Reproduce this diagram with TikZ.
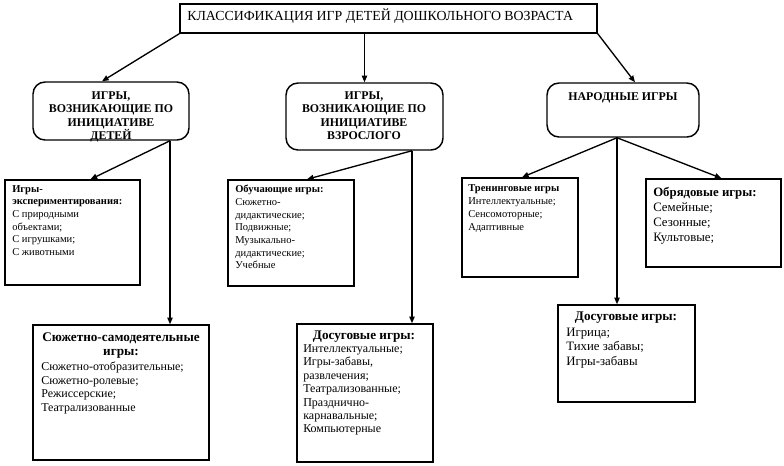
\documentclass[tikz,border=0pt]{standalone}
\usepackage{fontspec}
\setmainfont{Liberation Serif}
\usetikzlibrary{calc,fit,arrows.meta}

\tikzset{
  frame/.style={draw, line width=1.1pt, inner sep=0pt},
  topbox/.style={frame, rounded corners=9pt},
  link/.style={line width=1pt, -{Triangle[length=5pt,width=4pt]}},
  headtext/.style={anchor=north, inner sep=0pt, align=center,
    font=\bfseries\fontsize{8.9}{10}\selectfont},
  subhead/.style={headtext, font=\bfseries\fontsize{9.9}{11}\selectfont},
  listtext/.style={anchor=north west, inner sep=0pt, align=left,
    font=\fontsize{7.9}{9.5}\selectfont},
  bigtext/.style={listtext, font=\fontsize{9}{10.1}\selectfont},
  hugetext/.style={listtext, font=\fontsize{9.6}{11.1}\selectfont},
}

\begin{document}
\begin{tikzpicture}[x=0.75pt,y=-0.75pt]
  \useasboundingbox (0,0) rectangle (784,465);

  % title
  \node[frame, fit={(180,4) (597,33)}] (title) {};
  \node[anchor=west, inner sep=0pt, font=\fontsize{10.4}{12}\selectfont] (titletext)
    at (187,16.5) {КЛАССИФИКАЦИЯ ИГР ДЕТЕЙ ДОШКОЛЬНОГО ВОЗРАСТА};

  % first level
  \node[topbox, fit={(33,82) (189,140)}] (kids) {};
  \node[headtext] (kidstext) at (111,91.5) {ИГРЫ,\\ВОЗНИКАЮЩИЕ ПО\\ИНИЦИАТИВЕ\\ДЕТЕЙ};
  \node[topbox, fit={(286,83) (443,150)}] (adult) {};
  \node[headtext] (adulttext) at (364,91.5) {ИГРЫ,\\ВОЗНИКАЮЩИЕ ПО\\ИНИЦИАТИВЕ\\ВЗРОСЛОГО};
  \node[topbox, fit={(547,83) (699,137)}] (folk) {};
  \node[headtext] (folktext) at (623,92.5) {НАРОДНЫЕ ИГРЫ};

  % second level
  \node[frame, fit={(5,180) (140,285)}] (exper) {};
  \node[listtext] (expertext) at (12,185)
    {\textbf{Игры-}\\\textbf{экспериментирования:}\\С природными\\объектами;\\С игрушками;\\С животными};
  \node[frame, fit={(228,180) (354,286)}] (teach) {};
  \node[listtext] (teachtext) at (235,185)
    {\textbf{Обучающие игры:}\\Сюжетно-\\дидактические;\\Подвижные;\\Музыкально-\\дидактические;\\Учебные};
  \node[frame, fit={(462,178) (578,277)}] (train) {};
  \node[listtext, font=\fontsize{7.9}{9.8}\selectfont] (traintext) at (468,184.5)
    {\textbf{Тренинговые игры}\\Интеллектуальные;\\Сенсомоторные;\\Адаптивные};
  \node[frame, fit={(646,179) (781,267)}] (rite) {};
  \node[hugetext] (ritetext) at (653,187.5)
    {\textbf{Обрядовые игры:}\\Семейные;\\Сезонные;\\Культовые;};

  % third level
  \node[frame, fit={(33,325) (209,460)}] (plot) {};
  \node[subhead] (plothead) at (121,332)
    {Сюжетно-самодеятельные\\игры:};
  \node[bigtext] (plottext) at (41,362)
    {Сюжетно-отобразительные;\\Сюжетно-ролевые;\\Режиссерские;\\Театрализованные};
  \node[frame, fit={(297,324) (433,462)}] (leisure) {};
  \node[subhead] (leisurehead) at (364,331)
    {Досуговые игры:};
  \node[bigtext] (leisuretext) at (303,344)
    {Интеллектуальные;\\Игры-забавы,\\развлечения;\\Театрализованные;\\Празднично-\\карнавальные;\\Компьютерные};
  \node[frame, fit={(558,305) (695,402)}] (folkfun) {};
  \node[subhead] (folkfunhead) at (626,312)
    {Досуговые игры:};
  \node[hugetext] (folkfuntext) at (566,327.5)
    {Игрица;\\Тихие забавы;\\Игры-забавы};

  % forks
  \coordinate (kidsfork) at ($(kids.south)+(59,0)$);
  \coordinate (adultfork) at ($(adult.south)+(47.5,0)$);
  \coordinate (folkfork) at ($(folk.south)+(-6,0)$);

  % links
  \draw[link] (title.south west) -- ($(kids.north)+(-9,0)$);
  \draw[link] (title.south -| adult.north) -- (adult.north);
  \draw[link] (title.south east) -- ($(folk.north)+(12,0)$);
  \draw[link] (kidsfork) -- ($(exper.north)+(18,0)$);
  \draw[link] (kidsfork) -- (kidsfork |- plot.north);
  \draw[link] (adultfork) -- ($(teach.north)+(16,0)$);
  \draw[link] (adultfork) -- (adultfork |- leisure.north);
  \draw[link] (folkfork) -- ($(train.north)+(2,0)$);
  \draw[link] (folkfork) -- ($(rite.north)+(8,0)$);
  \draw[link] (folkfork) -- (folkfork |- folkfun.north);
\end{tikzpicture}
\end{document}
